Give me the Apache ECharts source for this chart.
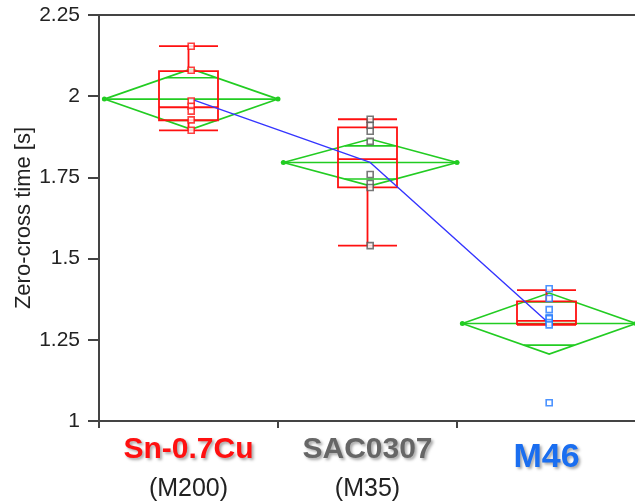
<!DOCTYPE html>
<html>
<head>
<meta charset="utf-8">
<script src="https://cdn.jsdelivr.net/npm/echarts@6/dist/echarts.min.js"></script>
<style>
html,body{margin:0;padding:0;background:#fff;}
#chart{width:635px;height:501px;}
</style>
</head>
<body>
<div id="chart"></div>
<script>
// ---- data ----
const categories = ['Sn-0.7Cu', 'SAC0307', 'M46'];
const subLabels = ['(M200)', '(M35)', ''];
const yTicks = [1, 1.25, 1.5, 1.75, 2, 2.25];

// box plot stats: [lower whisker, Q1, median, Q3, upper whisker]
const boxSn = [1.895, 1.926, 1.966, 2.077, 2.154];
const boxSAC = [1.540, 1.719, 1.806, 1.904, 1.929];
const boxM46 = [1.296, 1.298, 1.308, 1.368, 1.403];

// group means and 95% CI half-widths (means diamonds)
const means = [1.991, 1.796, 1.300];
const ciHalf = [0.093, 0.072, 0.094];

// individual observations
const pointsSn = [2.154, 2.080, 1.985, 1.969, 1.954, 1.927, 1.895];
const pointsSAC = [1.929, 1.910, 1.892, 1.861, 1.759, 1.731, 1.719, 1.540];
const pointsM46 = [1.407, 1.377, 1.343, 1.318, 1.315, 1.303, 1.296, 1.056];

// ---- styles ----
const FONT = '"Liberation Sans", Arial, sans-serif';
const RED = '#ff1010';
const GREEN = '#22cc22';
const BLUE_LINE = '#3535ff';
const AXIS = '#444444';
const pointColors = ['#ff1010', '#555555', '#1f78ff'];
const groupShift = 0.015;

const chart = echarts.init(document.getElementById('chart'), null, {renderer: 'canvas'});

const pointGroups = [pointsSn, pointsSAC, pointsM46];
const scatterSeries = pointGroups.map((pts, gi) => ({
  type: 'scatter',
  xAxisIndex: 1,
  yAxisIndex: 0,
  symbol: 'rect',
  symbolSize: 6,
  z: 6,
  itemStyle: {color: '#ffffff', borderColor: pointColors[gi], borderWidth: 1.6},
  data: pts.map(v => [gi + groupShift, v]),
  silent: true
}));

const diamondData = means.map((m, i) => [i + groupShift, m, ciHalf[i]]);

const shadow = {textShadowColor: 'rgba(0,0,0,0.35)', textShadowBlur: 3, textShadowOffsetX: 2, textShadowOffsetY: 2};

const option = {
  animation: false,
  backgroundColor: '#ffffff',
  grid: {left: 99, top: 15, width: 537, height: 406, outerBoundsMode: 'none', containLabel: false},
  xAxis: [
    {
      type: 'category',
      data: categories,
      position: 'bottom',
      boundaryGap: true,
      axisLine: {show: true, onZero: false, lineStyle: {color: AXIS, width: 2}},
      axisTick: {show: true, length: 7, lineStyle: {color: AXIS, width: 2}},
      splitLine: {show: false},
      axisLabel: {
        interval: 0,
        margin: 13,
        fontFamily: FONT,
        formatter: (v, idx) => subLabels[idx] ? `{c${idx}|${v}}\n{sub|${subLabels[idx]}}` : `{c${idx}|${v}}`,
        rich: {
          c0: Object.assign({color: RED, fontSize: 30, fontWeight: 'bold', lineHeight: 32, fontFamily: FONT}, shadow),
          c1: Object.assign({color: '#666666', fontSize: 30, fontWeight: 'bold', lineHeight: 32, fontFamily: FONT}, shadow),
          c2: Object.assign({color: '#1a6ef0', fontSize: 34, fontWeight: 'bold', lineHeight: 48, fontFamily: FONT}, shadow),
          sub: {color: '#222', fontSize: 25, lineHeight: 46, fontFamily: FONT}
        }
      }
    },
    {
      type: 'value',
      position: 'top',
      min: -0.5,
      max: 2.5,
      axisLine: {show: true, onZero: false, lineStyle: {color: AXIS, width: 2}},
      axisTick: {show: false},
      axisLabel: {show: false},
      splitLine: {show: false}
    }
  ],
  yAxis: [{
    type: 'value',
    position: 'left',
    min: yTicks[0],
    max: yTicks[yTicks.length - 1],
    interval: 0.25,
    name: 'Zero-cross time [s]',
    nameLocation: 'middle',
    nameGap: 64,
    nameMoveOverlap: false,
    nameTextStyle: {fontFamily: FONT, fontSize: 22, color: '#222'},
    axisLine: {show: true, onZero: false, lineStyle: {color: AXIS, width: 2}},
    axisTick: {show: true, length: 11, lineStyle: {color: AXIS, width: 2}},
    splitLine: {show: false},
    axisLabel: {
      margin: 19,
      fontFamily: FONT,
      fontSize: 21,
      color: '#222',
      formatter: v => String(v)
    }
  }],
  series: [
    {
      type: 'custom',
      xAxisIndex: 1,
      yAxisIndex: 0,
      z: 2,
      silent: true,
      data: diamondData,
      renderItem: function (params, api) {
        const x = api.value(0), m = api.value(1), ci = api.value(2);
        const hw = 0.485;
        const L = api.coord([x - hw, m]);
        const R = api.coord([x + hw, m]);
        const T = api.coord([x, m + ci]);
        const B = api.coord([x, m - ci]);
        const k = 1 / Math.SQRT2;
        const ow = hw * (1 - k);
        const oT1 = api.coord([x - ow, m + ci * k]);
        const oT2 = api.coord([x + ow, m + ci * k]);
        const oB1 = api.coord([x - ow, m - ci * k]);
        const oB2 = api.coord([x + ow, m - ci * k]);
        const st = {stroke: GREEN, lineWidth: 1.6, fill: null};
        return {
          type: 'group',
          children: [
            {type: 'polygon', shape: {points: [L, T, R, B]}, style: st},
            {type: 'line', shape: {x1: L[0], y1: L[1], x2: R[0], y2: R[1]}, style: st},
            {type: 'line', shape: {x1: oT1[0], y1: oT1[1], x2: oT2[0], y2: oT2[1]}, style: st},
            {type: 'line', shape: {x1: oB1[0], y1: oB1[1], x2: oB2[0], y2: oB2[1]}, style: st},
            {type: 'circle', shape: {cx: L[0], cy: L[1], r: 2.5}, style: {fill: GREEN}},
            {type: 'circle', shape: {cx: R[0], cy: R[1], r: 2.5}, style: {fill: GREEN}}
          ]
        };
      }
    },
    {
      type: 'boxplot',
      xAxisIndex: 0,
      yAxisIndex: 0,
      z: 4,
      silent: true,
      boxWidth: [59, 59],
      itemStyle: {color: 'rgba(0,0,0,0)', borderColor: RED, borderWidth: 1.8},
      data: [boxSn, boxSAC, boxM46]
    },
    {
      type: 'line',
      xAxisIndex: 1,
      yAxisIndex: 0,
      z: 5,
      silent: true,
      showSymbol: false,
      lineStyle: {color: BLUE_LINE, width: 1.4},
      data: means.map((m, i) => [i + groupShift, m])
    }
  ].concat(scatterSeries)
};

chart.setOption(option);
</script>
</body>
</html>
